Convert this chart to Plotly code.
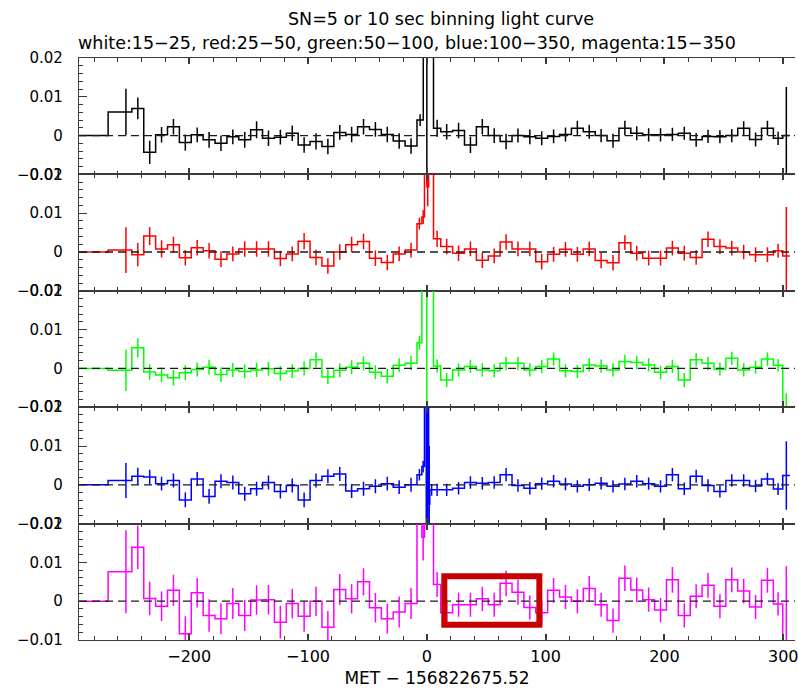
import plotly.graph_objects as go
from plotly.subplots import make_subplots

# ---------------------------------------------------------------------------
# Light-curve data: count rate per bin, time in s relative to MET 156822675.52
# ---------------------------------------------------------------------------
T_RANGE = [-292.8, 309.9]

# bin edges shared by all bands before and after the trigger spike
PRE_EDGES = [-292.8, -268.3, -258.3] + [round(-248.3 + 10 * k, 1) for k in range(25)]
POST_EDGES = [5.6] + [round(11.7 + 10 * k, 1) for k in range(29)] + [299.6, 305.6]

# white 15-25 keV
white_pre = [0, 0.0061, 0.0061, 0.007, -0.0043, 0.0002, 0.0023, -0.0018, 0.0002, -0.0011,
             -0.002, -0.0003, -0.0011, 0.0015, -0.0007, -0.0004, 0.0006, -0.0024, -0.0015,
             -0.0028, 0.0008, 0.0003, 0.0023, 0.0016, 0.0003, -0.0014, -0.0027]
white_pre_err = [0, 0, 0.006, 0.0028, 0.003, 0.002, 0.002, 0.0021, 0.0019, 0.002, 0.002,
                 0.0019, 0.002, 0.0022, 0.002, 0.0019, 0.002, 0.002, 0.0021, 0.002, 0.0019,
                 0.002, 0.002, 0.0019, 0.002, 0.002, 0.002]
white_spk_edges = [-3.0, 3.0]
white_spk = [0.004, 0.03, 0.03]
white_spk_err = [0.0015, 0.045, 0.01]
white_post = [0.0019, 0.001, 0.0013, -0.0024, 0.0023, 0.0, -0.0015, 0.0, -0.0003, -0.0007,
              -0.0002, 0.0003, 0.0019, 0.001, 0.0, -0.0013, 0.0019, 0.0006, 0.0002, 0.0002,
              0.0003, 0.0006, -0.0011, -0.0002, -0.0003, 0.0, 0.0019, -0.001, 0.0019,
              -0.0007, 0.0]
white_post_err = [0.0022, 0.002, 0.002, 0.0021, 0.002, 0.0019, 0.002, 0.0018, 0.0019, 0.0018,
                  0.0018, 0.0018, 0.0019, 0.0018, 0.0017, 0.0018, 0.0019, 0.0018, 0.0017,
                  0.0017, 0.0017, 0.0017, 0.0018, 0.0017, 0.0017, 0.0017, 0.0018, 0.0018,
                  0.0019, 0.0017, 0.0125]

# red 25-50 keV
red_pre = [0, 0.0005, 0.0005, -0.0007, 0.0041, 0.0008, 0.0019, -0.0015, 0.0011, 0.0003,
           -0.0019, -0.0005, 0.0008, 0.0008, 0.0008, -0.0017, -0.0005, 0.0028, -0.0014,
           -0.0036, 0.0, 0.0019, 0.0027, -0.0016, -0.0027, -0.0005, 0.0005]
red_pre_err = [0, 0, 0.0059, 0.003, 0.0023, 0.0022, 0.002, 0.002, 0.002, 0.002, 0.002,
               0.0019, 0.002, 0.002, 0.002, 0.002, 0.0019, 0.0021, 0.002, 0.002, 0.002,
               0.002, 0.002, 0.002, 0.002, 0.0019, 0.0019]
red_spk_edges = [-4.2, -2.0, 0.0, 1.5]
red_spk = [0.0073, 0.009, 0.03, 0.0168, 0.03]
red_spk_err = [0.0015, 0.0018, 0.008, 0.005, 0.008]
red_post = [0.0034, 0.0014, -0.0003, 0.0008, -0.0021, -0.001, 0.0026, 0.0008, 0.0008,
            -0.0025, -0.0006, 0.0007, -0.0006, 0.0008, -0.0022, -0.0028, 0.0024, -0.0003,
            -0.0016, -0.0016, 0.001, -0.0003, -0.0014, 0.0033, 0.0014, 0.001, 0.0, -0.0007,
            -0.0007, 0.0003, -0.001]
red_post_err = [0.0021, 0.002, 0.002, 0.0019, 0.002, 0.0019, 0.002, 0.0019, 0.0019, 0.002,
                0.0019, 0.0019, 0.0019, 0.0019, 0.002, 0.002, 0.0019, 0.0019, 0.0019, 0.0019,
                0.0019, 0.0019, 0.0019, 0.002, 0.0019, 0.0019, 0.0019, 0.0019, 0.0019,
                0.0018, 0.0126]

# green 50-100 keV
green_pre = [0, -0.0005, -0.0005, 0.0053, -0.0009, -0.0017, -0.0024, -0.0011, -0.0003,
             0.0003, -0.0016, -0.0004, -0.0008, -0.0004, -0.0001, -0.0013, -0.0007, 0.0,
             0.0022, -0.0022, -0.0005, 0.0003, 0.0013, -0.001, -0.002, 0.0008, 0.0013]
green_pre_err = [0, 0, 0.0053, 0.0025, 0.002, 0.0019, 0.002, 0.0019, 0.0018, 0.0019,
                 0.0019, 0.0018, 0.0018, 0.0018, 0.0018, 0.0019, 0.0018, 0.0018, 0.0019,
                 0.0019, 0.0018, 0.0018, 0.0018, 0.0018, 0.0019, 0.0018, 0.0018]
green_spk_edges = [-4.2, -1.0, 1.0]
green_spk = [0.0066, 0.03, 0.025, 0.03]
green_spk_err = [0.0018, 0.008, 0.045, 0.008]
green_post = [0.0006, -0.003, -0.0004, 0.0005, -0.0004, -0.0006, 0.0013, 0.0013, -0.0004,
              0.0005, 0.0024, -0.0006, -0.0008, 0.0009, 0.0006, -0.0004, 0.0018, 0.0015,
              0.0009, -0.001, 0.0005, -0.003, 0.0022, 0.0013, -0.0002, 0.0026, -0.0004,
              0.0003, 0.0024, 0.0008, -0.016]
green_post_err = [0.0017, 0.0018, 0.0017, 0.0017, 0.0017, 0.0017, 0.0017, 0.0017, 0.0017,
                  0.0017, 0.0017, 0.0017, 0.0017, 0.0017, 0.0017, 0.0017, 0.0017, 0.0017,
                  0.0017, 0.0017, 0.0017, 0.0018, 0.0017, 0.0017, 0.0017, 0.0017, 0.0017,
                  0.0017, 0.0017, 0.0016, 0.0096]

# blue 100-350 keV
blue_pre = [0, 0.0011, 0.0011, 0.0022, 0.002, 0.0003, 0.0011, -0.0039, 0.0015, -0.003,
            0.0009, 0.0006, -0.0023, -0.001, 0.0006, -0.0017, -0.0002, -0.0039, 0.0011,
            0.0022, 0.0028, -0.0016, -0.001, -0.0004, 0.0003, -0.0006, 0.0]
blue_pre_err = [0, 0, 0.0045, 0.0022, 0.0019, 0.0018, 0.0018, 0.0019, 0.0018, 0.0019,
                0.0018, 0.0018, 0.0018, 0.0018, 0.0018, 0.0018, 0.0018, 0.0019, 0.0018,
                0.0018, 0.0018, 0.0018, 0.0018, 0.0018, 0.0018, 0.0018, 0.0018]
blue_spk_edges = [-4.2, -2.0, -0.5, 0.5, 1.5, 2.5]
blue_spk = [0.0026, 0.0047, 0.03, -0.015, 0.02, -0.005, -0.0013]
blue_spk_err = [0.0015, 0.0015, 0.01, 0.03, 0.03, 0.015, 0.0015]
blue_post = [-0.0013, -0.0013, -0.0009, 0.0006, 0.0004, 0.0006, 0.0026, -0.0002, -0.0009,
             0.0003, 0.0009, 0.0002, -0.0004, 0.0, 0.0004, -0.0004, 0.0002, 0.0009, 0.0003,
             -0.0004, 0.0026, -0.001, 0.0022, -0.0002, -0.0017, 0.0011, 0.0011, -0.0003,
             0.0015, -0.0011, 0.0024]
blue_post_err = [0.0016, 0.0016, 0.0016, 0.0016, 0.0016, 0.0016, 0.0017, 0.0016, 0.0016,
                 0.0016, 0.0016, 0.0016, 0.0016, 0.0016, 0.0016, 0.0016, 0.0016, 0.0016,
                 0.0016, 0.0016, 0.0017, 0.0016, 0.0017, 0.0016, 0.0016, 0.0016, 0.0016,
                 0.0016, 0.0016, 0.0015, 0.0088]

# magenta 15-350 keV
magenta_pre = [0, 0.0076, 0.0076, 0.0139, 0.0007, -0.0013, 0.0028, -0.0084, 0.0022, -0.0037,
               -0.0045, -0.0006, -0.0037, 0.0003, 0.0004, -0.0054, -0.0006, -0.0039, 0.0,
               -0.0067, 0.003, 0.0006, 0.005, -0.0017, -0.0045, -0.0028, -0.0006]
magenta_pre_err = [0, 0, 0.0107, 0.0056, 0.0043, 0.0038, 0.004, 0.0045, 0.0038, 0.0042,
                   0.004, 0.004, 0.004, 0.0038, 0.0038, 0.0042, 0.0038, 0.004, 0.0038,
                   0.0042, 0.004, 0.0038, 0.0035, 0.0038, 0.0038, 0.004, 0.004]
magenta_spk_edges = [-4.2, -2.0]
magenta_spk = [0.03, 0.0165, 0.035]
magenta_spk_err = [0.01, 0.006, 0.01]
magenta_post = [0.0043, -0.003, -0.0009, -0.0009, 0.0006, -0.0009, 0.0046, 0.0023, -0.0016,
                -0.003, 0.0028, 0.0011, 0.0, 0.0033, -0.0009, -0.005, 0.0059, 0.0029, 0.0004,
                -0.0023, 0.0055, -0.0037, 0.0013, 0.0041, -0.0013, 0.0055, 0.0026, -0.0015,
                0.0054, -0.0007, -0.013]
magenta_post_err = [0.0032, 0.0032, 0.0031, 0.0031, 0.0031, 0.0031, 0.0033, 0.0032, 0.0031,
                    0.0031, 0.0032, 0.0031, 0.0031, 0.0032, 0.0031, 0.0031, 0.0033, 0.0032,
                    0.0031, 0.0031, 0.0033, 0.0031, 0.0031, 0.0032, 0.0031, 0.0032, 0.0032,
                    0.0031, 0.0032, 0.003, 0.022]

BANDS = [
    ("#000000", white_pre, white_pre_err, white_spk_edges, white_spk, white_spk_err,
     white_post, white_post_err),
    ("#ff0000", red_pre, red_pre_err, red_spk_edges, red_spk, red_spk_err,
     red_post, red_post_err),
    ("#00ff00", green_pre, green_pre_err, green_spk_edges, green_spk, green_spk_err,
     green_post, green_post_err),
    ("#0000ff", blue_pre, blue_pre_err, blue_spk_edges, blue_spk, blue_spk_err,
     blue_post, blue_post_err),
    ("#ff00ff", magenta_pre, magenta_pre_err, magenta_spk_edges, magenta_spk,
     magenta_spk_err, magenta_post, magenta_post_err),
]

Y_TICKS = [-0.01, 0.0, 0.01, 0.02]
Y_TICKTEXT = ["\u22120.01", "0", "0.01", "0.02"]
X_TICKS = [-200, -100, 0, 100, 200, 300]
X_TICKTEXT = ["\u2212200", "\u2212100", "0", "100", "200", "300"]

TITLE = "SN=5 or 10 sec binning light curve"
SUBTITLE = ("white:15\u221225, red:25\u221250, green:50\u2212100, "
            "blue:100\u2212350, magenta:15\u2212350")
XLABEL = "MET \u2212 156822675.52"

# highlighted interval on the 15-350 keV panel
HIGHLIGHT_T = (14.7, 94.7)
HIGHLIGHT_RATE = (-0.0061, 0.0064)

FONT = "DejaVu Sans"
FRAME = "#3a3a3a"

fig = make_subplots(rows=5, cols=1, shared_xaxes=True, vertical_spacing=0)

for row, (color, pre, pre_e, spk_edges, spk, spk_e, post, post_e) in enumerate(BANDS, start=1):
    edges = PRE_EDGES + spk_edges + POST_EDGES
    vals = pre + spk + post
    errs = pre_e + spk_e + post_e
    if len(edges) != len(vals) + 1 or len(vals) != len(errs):
        raise ValueError(f"band {row}: {len(edges)} edges, {len(vals)} values, {len(errs)} errors")
    centers = [(a + b) / 2 for a, b in zip(edges[:-1], edges[1:])]

    # histogram-style step line
    fig.add_trace(go.Scatter(
        x=edges, y=vals + [vals[-1]], mode="lines", line_shape="hv",
        line=dict(color=color, width=1.5), hoverinfo="skip", showlegend=False,
    ), row=row, col=1)
    # 1-sigma error bars at the bin centres (points themselves invisible)
    fig.add_trace(go.Scatter(
        x=centers, y=vals, mode="markers",
        marker=dict(size=1, color="rgba(0,0,0,0)", line=dict(width=0)),
        error_y=dict(type="data", array=errs, visible=True, width=0,
                     thickness=1.5, color=color),
        hoverinfo="skip", showlegend=False,
    ), row=row, col=1)

    fig.add_hline(y=0, row=row, col=1, layer="above",
                  line=dict(color="#1a1a1a", width=1.3, dash="8px,5px"))

    fig.update_yaxes(
        row=row, col=1, range=[-0.01, 0.02], tickvals=Y_TICKS, ticktext=Y_TICKTEXT,
        ticks="inside", ticklen=8, tickwidth=1.2, tickcolor=FRAME,
        minor=dict(dtick=0.002, tick0=0, ticks="inside", ticklen=4, tickwidth=1,
                   tickcolor=FRAME),
        showline=True, linecolor=FRAME, linewidth=1.2, mirror=False,
        showgrid=False, zeroline=False, ticklabelstandoff=12,
        tickfont=dict(family=FONT, size=15, color="#000000"),
    )
    fig.update_xaxes(
        row=row, col=1, range=T_RANGE, tickvals=X_TICKS, ticktext=X_TICKTEXT,
        ticks="inside", ticklen=6, tickwidth=1.5, tickcolor=FRAME,
        minor=dict(dtick=20, tick0=0, ticks="inside", ticklen=3.5, tickwidth=1,
                   tickcolor=FRAME),
        showline=True, linecolor=FRAME, linewidth=1.1, mirror="ticks",
        showgrid=False, zeroline=False, showticklabels=(row == 5),
        tickfont=dict(family=FONT, size=16, color="#000000"), ticklabelstandoff=2,
        ticklabeloverflow="allow",
    )

fig.update_xaxes(row=5, col=1, title=dict(text=XLABEL, standoff=6,
                                           font=dict(family=FONT, size=17, color="#000000")))

fig.add_shape(type="rect", xref="x5", yref="y5",
              x0=HIGHLIGHT_T[0], x1=HIGHLIGHT_T[1],
              y0=HIGHLIGHT_RATE[0], y1=HIGHLIGHT_RATE[1],
              line=dict(color="#c80000", width=6), layer="above")

fig.add_annotation(text=TITLE, xref="paper", yref="paper", x=0.505, y=1.067,
                   xanchor="center", yanchor="middle", showarrow=False,
                   font=dict(family=FONT, size=17.5, color="#000000"))
fig.add_annotation(text=SUBTITLE, xref="paper", yref="paper", x=0.458, y=1.026,
                   xanchor="center", yanchor="middle", showarrow=False,
                   font=dict(family=FONT, size=17.5, color="#000000"))

fig.update_layout(
    width=798, height=690,
    margin=dict(l=79, r=0, t=58, b=50),
    paper_bgcolor="#ffffff", plot_bgcolor="#ffffff",
    showlegend=False,
    font=dict(family=FONT, color="#000000"),
)

fig.write_html("out.html")
